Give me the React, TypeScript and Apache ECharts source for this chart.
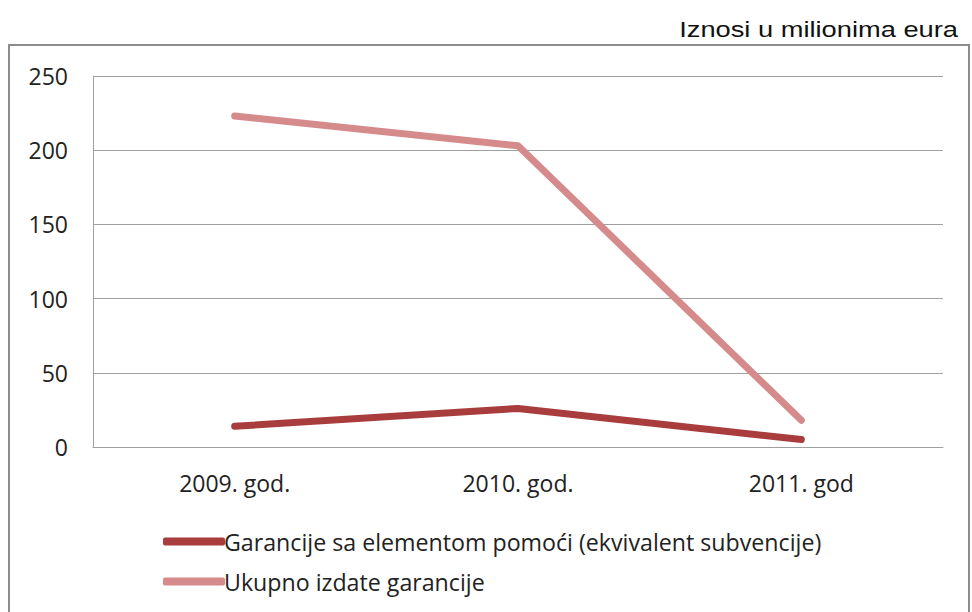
import React, { useEffect, useRef } from "react";
import * as echarts from "echarts";

const categories = ["2009. god.", "2010. god.", "2011. god"];
const garancijeSaElementom = [14, 26, 5];
const ukupnoIzdate = [223, 203, 18];
const seriesNames = [
  "Garancije sa elementom pomoći (ekvivalent subvencije)",
  "Ukupno izdate garancije",
];
const titleText = "Iznosi u milionima eura";

export default function App() {
  const ref = useRef<HTMLDivElement>(null);
  useEffect(() => {
    const chart = echarts.init(ref.current!, null, { renderer: "svg" });
    const font = "'Open Sans', 'Noto Sans', sans-serif";
    chart.setOption({
      animation: false,
      backgroundColor: "#ffffff",
      graphic: [
        {
          type: "rect",
          shape: { x: 9, y: 45, width: 960, height: 600 },
          style: { fill: "none", stroke: "#8c8c8c", lineWidth: 2 },
          silent: true,
        },
        {
          type: "text",
          x: 958,
          y: 29,
          scaleX: 1.24,
          style: {
            text: titleText,
            fontFamily: "'Liberation Sans', Arial, sans-serif",
            fontSize: 22,
            fill: "#111111",
            textAlign: "right",
            textVerticalAlign: "middle",
          },
          silent: true,
        },
      ],
      grid: { left: 93, right: 29, top: 76, bottom: 165, containLabel: false },
      legend: {
        orient: "vertical",
        left: 158,
        top: 525,
        itemGap: 17,
        itemWidth: 62,
        itemHeight: 8,
        icon: "roundRect",
        textStyle: { fontFamily: font, fontSize: 23.2, color: "#222222", padding: [0, 0, 0, -6] },
        data: seriesNames,
      },
      xAxis: {
        type: "category",
        data: categories,
        boundaryGap: true,
        axisLine: { lineStyle: { color: "#a0a0a0", width: 1 } },
        axisTick: { show: false },
        axisLabel: { fontFamily: font, fontSize: 23, color: "#222222", margin: 24 },
      },
      yAxis: {
        type: "value",
        min: 0,
        max: 250,
        interval: 50,
        axisLine: { show: true, lineStyle: { color: "#a0a0a0", width: 1 } },
        axisTick: { show: false },
        splitLine: { lineStyle: { color: "#a0a0a0", width: 1 } },
        axisLabel: { fontFamily: font, fontSize: 23, color: "#222222", margin: 25 },
      },
      series: [
        {
          name: seriesNames[0],
          type: "line",
          data: garancijeSaElementom,
          symbol: "none",
          color: "#a93d3d",
          lineStyle: { width: 7, color: "#a93d3d", cap: "round", join: "round" },
        },
        {
          name: seriesNames[1],
          type: "line",
          data: ukupnoIzdate,
          symbol: "none",
          color: "#d58a8b",
          lineStyle: { width: 7, color: "#d58a8b", cap: "round", join: "round" },
        },
      ],
    });
    return () => chart.dispose();
  }, []);
  return <div ref={ref} style={{ width: 972, height: 612, position: "absolute", left: 0, top: 0 }} />;
}
